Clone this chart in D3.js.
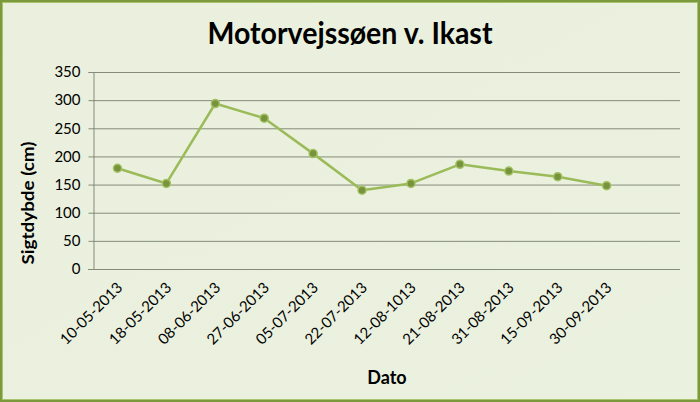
<!DOCTYPE html>
<html><head><meta charset="utf-8">
<script src="https://cdn.jsdelivr.net/npm/d3@7"></script>
<style>
html,body{margin:0;padding:0;background:#fff;}
svg{display:block;}
text{font-family:Lato,"Open Sans",sans-serif;fill:#000;}
</style></head>
<body>
<script>
const categories = ["10-05-2013","18-05-2013","08-06-2013","27-06-2013","05-07-2013","22-07-2013","12-08-1013","21-08-2013","31-08-2013","15-09-2013","30-09-2013"];
const values = [179, 152, 294, 268, 205, 140, 152, 186, 174, 164, 148];
const yTicks = [0, 50, 100, 150, 200, 250, 300, 350];
const title = "Motorvejssøen v. Ikast";
const yTitle = "Sigtdybde (cm)";
const xTitle = "Dato";

const W = 700, H = 402;
const svg = d3.select("body").append("svg").attr("width", W).attr("height", H);

const defs = svg.append("defs");
const grad = defs.append("linearGradient").attr("id","bg").attr("x1","0").attr("y1","0").attr("x2","1").attr("y2","1");
grad.append("stop").attr("offset","0").attr("stop-color","#eaf0dd");
grad.append("stop").attr("offset","1").attr("stop-color","#ebf1df");

svg.append("rect").attr("x",0).attr("y",0).attr("width",W).attr("height",H).attr("fill","#7c9a3c");
svg.append("rect").attr("x",2).attr("y",2).attr("width",W-4).attr("height",H-4).attr("fill","#a9c46e");
svg.append("rect").attr("x",3).attr("y",3).attr("width",W-6).attr("height",H-6).attr("fill","url(#bg)");

const plotL = 93, plotR = 680, plotT = 72, plotB = 269;
const bandW = (plotR - plotL) / 12;

const x = d3.scaleBand().domain(categories).range([plotL, plotL + bandW * categories.length]);
const y = d3.scaleLinear().domain([0, 350]).range([plotB, plotT]);

// gridlines
svg.append("g").selectAll("line").data(yTicks.filter(d => d > 0)).join("line")
  .attr("x1", plotL).attr("x2", plotR)
  .attr("y1", d => y(d) + 0.5).attr("y2", d => y(d) + 0.5)
  .attr("stroke", "#838c7a").attr("stroke-width", 1);

// y axis
const yAxis = svg.append("g").attr("transform", `translate(${plotL + 0.5},0)`)
  .call(d3.axisLeft(y).tickValues(yTicks).tickSize(5).tickPadding(8));
yAxis.select(".domain").attr("stroke", "#838c7a");
yAxis.selectAll(".tick line").attr("stroke", "#838c7a");
yAxis.selectAll("text").attr("font-size", 15).attr("font-family", "Lato,'Open Sans',sans-serif").attr("fill","#000");

// x axis
const xAxis = svg.append("g").attr("transform", `translate(0,${plotB + 0.5})`)
  .call(d3.axisBottom(x).tickSize(0).tickPadding(0));
xAxis.select(".domain").remove();
svg.append("line").attr("x1", plotL - 5).attr("x2", plotR).attr("y1", plotB + 0.5).attr("y2", plotB + 0.5)
  .attr("stroke", "#838c7a");
xAxis.selectAll(".tick text")
  .attr("font-size", 15).attr("font-family", "Lato,'Open Sans',sans-serif").attr("fill","#000")
  .attr("text-anchor", "end").attr("dy", "0")
  .attr("transform", "translate(6,19) rotate(-45)");

// line
const line = d3.line().x((d, i) => x(categories[i]) + x.bandwidth() / 2).y(d => y(d));
svg.append("path").datum(values).attr("d", line)
  .attr("fill", "none").attr("stroke", "#9bbb59").attr("stroke-width", 2.5).attr("stroke-linejoin","round");

svg.append("g").selectAll("circle").data(values).join("circle")
  .attr("cx", (d, i) => x(categories[i]) + x.bandwidth() / 2)
  .attr("cy", d => y(d))
  .attr("r", 4)
  .attr("fill", "#77933c").attr("stroke", "#a3c064").attr("stroke-width", 1.5);

// titles
svg.append("text").attr("x", 350).attr("y", 44).attr("text-anchor", "middle")
  .attr("font-size", 30).attr("font-weight", "bold")
  .attr("textLength", 285).attr("lengthAdjust", "spacingAndGlyphs")
  .text(title);

svg.append("text").attr("transform", "translate(34,203) rotate(-90)").attr("text-anchor", "middle")
  .attr("font-size", 17).attr("font-weight", "bold")
  .attr("textLength", 123).attr("lengthAdjust", "spacingAndGlyphs")
  .text(yTitle);

svg.append("text").attr("x", 387).attr("y", 384).attr("text-anchor", "middle")
  .attr("font-size", 18).attr("font-weight", "bold")
  .text(xTitle);
</script>
</body></html>
